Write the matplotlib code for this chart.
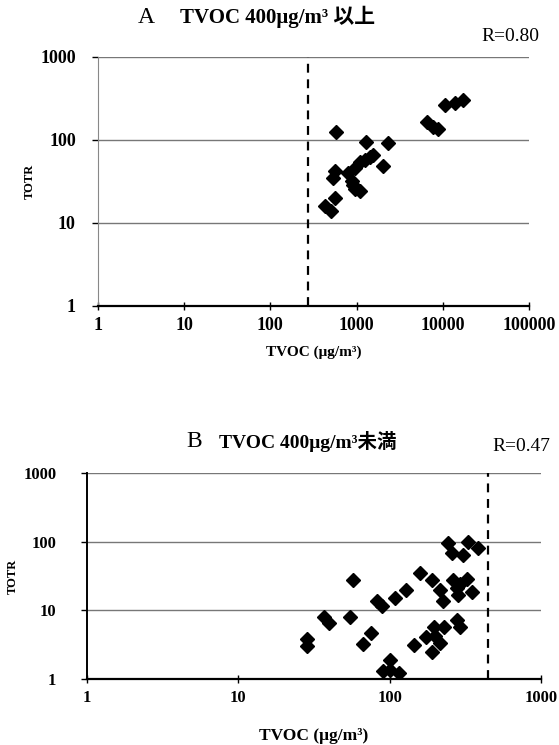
import matplotlib.pyplot as plt
import numpy as np

plt.rcParams['font.family'] = ['Liberation Serif', 'Noto Sans CJK JP']

# panel A (TVOC 400 ug/m3 and above)
a_tvoc = [572, 1285, 2290, 1430, 2040, 1100, 955, 800, 560, 537, 875, 955,
          1100, 915, 560, 428, 500, 1250, 1550, 10600, 13800, 17300, 6500,
          7750, 8900]
a_totr = [125, 95, 91, 63, 48.6, 55, 46, 40, 42, 35, 31.7, 26, 24, 29, 20,
          15.8, 13.8, 57, 66, 263, 277, 302, 166, 145, 134]
a_cut = 275

# panel B (TVOC below 400 ug/m3)
b_tvoc = [244, 257, 307, 331, 385, 57.5, 159, 191, 129, 108, 82, 88.5, 215,
          225, 264, 292, 323, 349, 284, 277, 36.8, 40, 55, 28.3, 28.3, 75,
          67, 144, 174, 195, 227, 277, 292, 200, 215, 190, 100, 91, 115, 100]
b_totr = [95, 68, 65, 100, 80, 27.6, 35, 28, 20, 15, 13.5, 11.5, 20, 13.5,
          27.6, 24, 29, 18.5, 16.6, 21, 8.1, 6.5, 7.9, 3.8, 3.0, 4.7, 3.25,
          3.15, 4.1, 5.8, 5.8, 7.2, 5.8, 4.2, 3.3, 2.5, 1.9, 1.3, 1.22, 1.35]
b_cut = 444

fig = plt.figure(figsize=(5.59, 7.45), dpi=100)

ax1 = fig.add_axes([0.1753, 0.5893, 0.771, 0.3342])
ax2 = fig.add_axes([0.1556, 0.0886, 0.8122, 0.2765])


def style(ax, xmax, fs, ypad):
    ax.set_xscale('log')
    ax.set_yscale('log')
    ax.set_xlim(1, xmax)
    ax.set_ylim(1, 1000)
    ax.minorticks_off()
    for v in [10, 100, 1000]:
        ax.axhline(v, color='#777777', lw=1.0, zorder=1)
    ax.spines['top'].set_visible(False)
    ax.spines['right'].set_visible(False)
    ax.spines['bottom'].set_linewidth(1.6)
    ax.tick_params(axis='x', direction='inout', length=6, width=1, pad=5,
                   labelsize=fs)
    ax.tick_params(axis='y', direction='out', length=4, width=1, pad=ypad,
                   labelsize=fs)
    ax.xaxis.set_major_formatter(plt.FuncFormatter(lambda v, p: '%d' % v))
    ax.yaxis.set_major_formatter(plt.FuncFormatter(lambda v, p: '%d' % v))
    for lab in ax.get_xticklabels() + ax.get_yticklabels():
        lab.set_fontweight('bold')


style(ax1, 100000, 13, 12)
ax1.spines['left'].set_color('#888888')
ax1.spines['left'].set_linestyle((0, (1, 1)))
ax1.set_xticks([1, 10, 100, 1000, 10000, 100000])
ax1.set_yticks([1, 10, 100, 1000])
ax1.axvline(a_cut, color='black', lw=1.6, ls=(0, (4, 3)), zorder=2)
ax1.plot(a_tvoc, a_totr, 'D', color='black', ms=7, zorder=3)
ax1.set_xlabel('TVOC (μg/m³)', fontsize=11, fontweight='bold', labelpad=8)
ax1.set_ylabel('TOTR', fontsize=9, fontweight='bold', labelpad=3)
fig.text(0.247, 0.977, 'A', fontsize=17, ha='left', va='center')
fig.text(0.322, 0.977, 'TVOC 400μg/m³ 以上', fontsize=15, fontweight='bold',
         ha='left', va='center')
fig.text(0.965, 0.951, 'R=0.80', fontsize=14, ha='right', va='center')

style(ax2, 1000, 12, 18)
ax2.spines['left'].set_linewidth(1.4)
ax2.set_xticks([1, 10, 100, 1000])
ax2.set_yticks([1, 10, 100, 1000])
ax2.axvline(b_cut, color='black', lw=1.6, ls=(0, (4, 3)), zorder=2)
ax2.plot(b_tvoc, b_totr, 'D', color='black', ms=7, zorder=3)
ax2.set_xlabel('TVOC (μg/m³)', fontsize=12.5, fontweight='bold', labelpad=16)
ax2.set_ylabel('TOTR', fontsize=9, fontweight='bold', labelpad=3)
fig.text(0.333, 0.407, 'B', fontsize=17, ha='left', va='center')
fig.text(0.392, 0.407, 'TVOC 400μg/m³未満', fontsize=14, fontweight='bold',
         ha='left', va='center')
fig.text(0.985, 0.401, 'R=0.47', fontsize=14, ha='right', va='center')

fig.savefig('out.png', dpi=100)
